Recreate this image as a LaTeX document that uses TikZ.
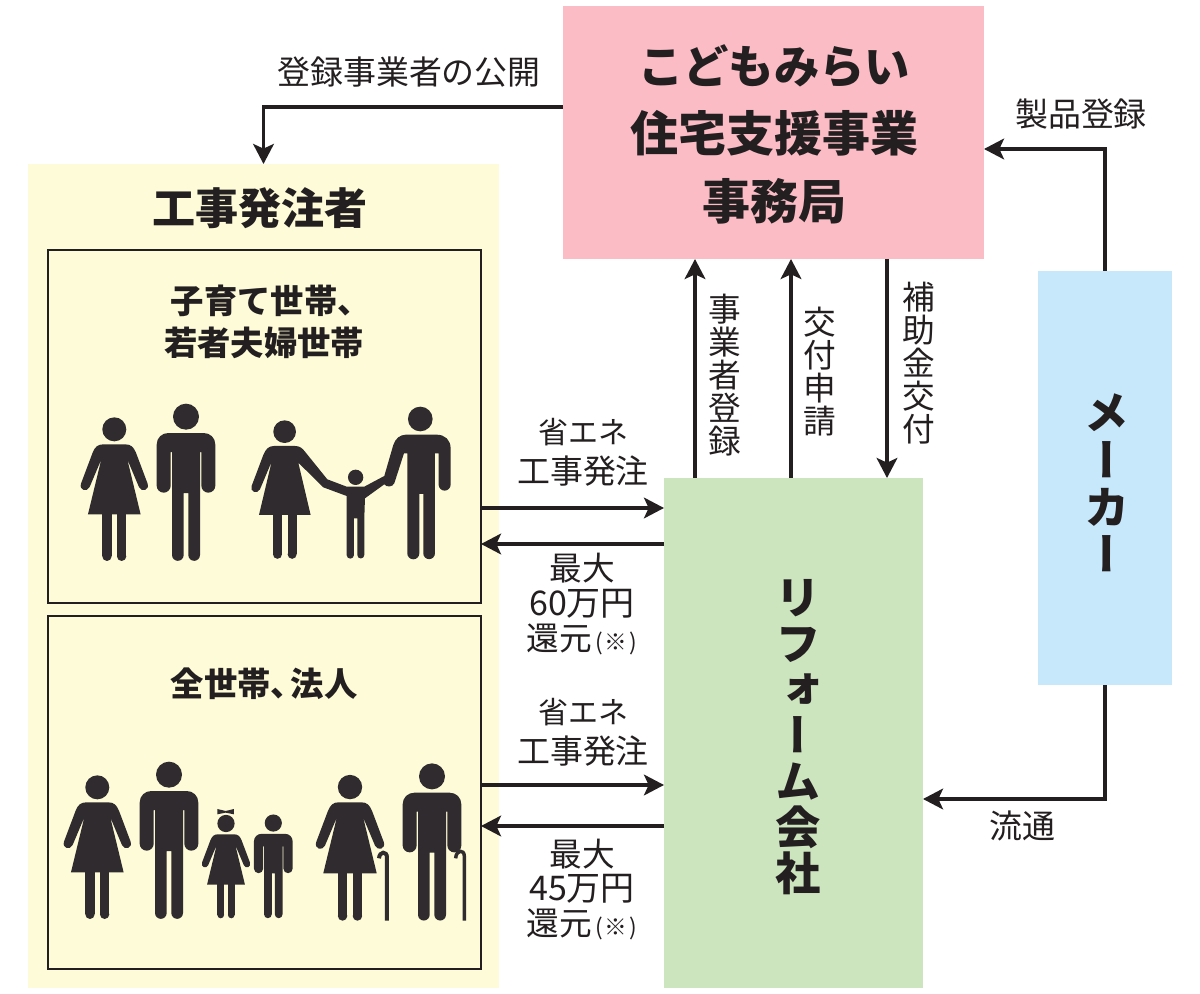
\documentclass[tikz,border=0pt]{standalone}
\usepackage{fontspec}
\usetikzlibrary{arrows.meta,calc}
\setmainfont{Noto Sans CJK JP}
\newfontfamily\jpr{Noto Sans CJK JP}
\newfontfamily\jpb{Noto Sans CJK JP Black}
\newfontfamily\jpv[RawFeature={+vert}]{Noto Sans CJK JP}
\newfontfamily\jpbv[RawFeature={+vert}]{Noto Sans CJK JP Black}
\definecolor{ink}{HTML}{231F20}
\definecolor{fig}{HTML}{2F2B2E}
\definecolor{ownerc}{HTML}{FEFBD8}
\definecolor{pinkc}{HTML}{FBBCC6}
\definecolor{bluec}{HTML}{C7E8FB}
\definecolor{greenc}{HTML}{CDE5BF}
\newcommand{\kome}{\hspace{.1em}{\fontsize{17}{20}\selectfont (\hspace{.1em}※\hspace{.1em})}}
\setlength{\lineskiplimit}{-10pt}
\tikzset{
  area/.style={inner sep=0pt,outer sep=0pt,draw=none,anchor=north west},
  frame/.style={inner sep=0pt,outer sep=0pt,draw=ink,line width=1.1pt,anchor=north west},
  arr/.style={draw=ink,line width=2.6pt,-{Stealth[length=15pt,width=15.5pt,inset=3.5pt]}},
  lbl/.style={text=ink,align=center,inner sep=0pt,font=\jpr\fontsize{24.7}{30}\selectfont},
  lbt/.style={text=ink,align=center,inner sep=0pt,font=\jpr\fontsize{24.5}{26}\selectfont},
  vl/.style={text=ink,align=center,inner sep=0pt,font=\jpv\fontsize{24.5}{24.75}\selectfont},
  sub/.style={text=ink,align=center,inner sep=0pt,font=\jpb\fontsize{25}{31.5}\selectfont},
  man/.pic={
    \fill[fig] (0,-433) circle (39);
    \fill[fig] (-88,-349) .. controls (-88,-370) and (-72,-384) .. (-53,-384) -- (53,-384)
      .. controls (72,-384) and (88,-370) .. (88,-349) -- (88,-226)
      arc[start angle=0,end angle=180,radius=21] -- (46,-327) -- (42,-327) -- (42,-18)
      arc[start angle=0,end angle=180,radius=17.5] -- (7,-204) -- (-7,-204) -- (-7,-18)
      arc[start angle=0,end angle=180,radius=17.5] -- (-42,-327) -- (-46,-327) -- (-46,-226)
      arc[start angle=0,end angle=180,radius=21] -- cycle;
  },
  woman/.pic={
    \fill[fig] (0,-395) circle (36);
    \fill[fig] (-33,-350) -- (33,-350) .. controls (50,-350) and (58,-342) .. (65,-325)
      -- (100,-232) .. controls (106,-212) and (82,-205) .. (74,-222) -- (39,-305) -- (79,-140)
      -- (-79,-140) -- (-39,-305) -- (-74,-222) .. controls (-82,-205) and (-106,-212) .. (-100,-232)
      -- (-65,-325) .. controls (-58,-342) and (-50,-350) .. (-33,-350) -- cycle;
    \fill[fig] (-36,-145) rectangle (-8,-14);
    \fill[fig] (8,-145) rectangle (36,-14);
    \fill[fig] (-22,-14) circle (14);
    \fill[fig] (22,-14) circle (14);
  }
}
\begin{document}
\begin{tikzpicture}[x=0.75pt,y=-0.75pt]
\useasboundingbox (0,0) rectangle (1200,994);
\fill[white] (0,0) rectangle (1200,994);
% areas
\node[area,fill=ownerc,minimum width=353.25pt,minimum height=618pt] (owner) at (28,164) {};
\node[frame,minimum width=324.75pt,minimum height=264.75pt] (box1) at (48,250) {};
\node[frame,minimum width=324.75pt,minimum height=264.75pt] (box2) at (48,616) {};
\node[area,fill=pinkc,minimum width=315.75pt,minimum height=189.75pt] (pink) at (563,6) {};
\node[area,fill=bluec,minimum width=100.5pt,minimum height=310.5pt] (maker) at (1038,271) {};
\node[area,fill=greenc,minimum width=194.25pt,minimum height=382.5pt] (reform) at (664,478) {};
% guide coordinates
\coordinate (ya) at (0,107);
\coordinate (yb) at (0,149);
\coordinate (yc) at (0,799);
\coordinate (va) at (695,0);
\coordinate (vb) at (791,0);
\coordinate (vc) at (887,0);
\coordinate (ha) at (0,508);
\coordinate (hb) at (0,544);
\coordinate (hc) at (0,785);
\coordinate (hd) at (0,826);
% connectors
\draw[arr] (pink.west |- ya) -| (owner.north);
\draw[arr] (maker.north) |- (pink.east |- yb);
\draw[arr] (maker.south) |- (reform.east |- yc);
\draw[arr] (reform.north -| va) -- (pink.south -| va);
\draw[arr] (reform.north -| vb) -- (pink.south -| vb);
\draw[arr] (pink.south -| vc) -- (reform.north -| vc);
\draw[arr] (box1.east |- ha) -- (reform.west |- ha);
\draw[arr] (reform.west |- hb) -- (box1.east |- hb);
\draw[arr] (box2.east |- hc) -- (reform.west |- hc);
\draw[arr] (reform.west |- hd) -- (box2.east |- hd);
% big titles
\node[text=ink,align=center,inner sep=0pt,font=\jpb\fontsize{34}{51}\selectfont] (ttl) at (774,134) {こどもみらい\\{\fontsize{36}{51}\selectfont 住宅支援事業}\\{\fontsize{36}{51}\selectfont 事務局}};
\node[text=ink,inner sep=0pt,font=\jpb\fontsize{32.3}{36}\selectfont] (ownert) at (260,208) {工事発注者};
\node[sub] (s1) at (264,322) {\hspace*{.4em}子育て世帯、\\若者夫婦世帯};
\node[sub] (s2) at (264,684) {全世帯、\hspace*{-.4em}法人};
% labels
\node[lbl] (l1) at (409,72) {登録事業者の公開};
\node[lbl] (l2) at (1081,114) {製品登録};
\node[lbl] (l3) at (1022,826) {流通};
\node[lbl] (l4) at (583,452) {{\fontsize{22.5}{30}\selectfont 省エネ}\\工事発注};
\node[lbl] (l5) at (583,732) {{\fontsize{22.5}{30}\selectfont 省エネ}\\工事発注};
\node[lbt] (l6) at (582,604) {最大\\{\fontsize{25.5}{26}\selectfont 60万円}\\還元\kome};
\node[lbt] (l7) at (582,889.5) {最大\\{\fontsize{25.5}{26}\selectfont 45万円}\\還元\kome};
% vertical labels
\node[vl] (v1) at (725,375) {事\\業\\者\\登\\録};
\node[vl] (v2) at (820,372) {交\\付\\申\\請};
\node[vl] (v3) at (919,363) {補\\助\\金\\交\\付};
\node[text=ink,align=center,inner sep=0pt,font=\jpbv\fontsize{34}{34.5}\selectfont] (v4) at (798,737) {リ\\フ\\ォ\\ー\\ム\\会\\社};
\node[text=ink,align=center,inner sep=0pt,font=\jpbv\fontsize{34}{35.5}\selectfont] (v5) at (1107,483) {メ\\ー\\カ\\ー};
% people, top
\pic[scale=.3333] at (114.3,561) {woman};
\pic[scale=.3333] at (186,561) {man};
\begin{scope}[shift={(50,390)},scale=.3333]
  \fill[fig] (704,125) circle (34);
  \fill[fig] (672,168) -- (735,168) .. controls (750,168) and (757,175) .. (765,185) -- (832,268) -- (890,290) -- (943,290)
    -- (1003,258) -- (1030,165) .. controls (1036,146) and (1050,134) .. (1068,134) -- (1160,134)
    .. controls (1185,134) and (1202,150) .. (1202,175) -- (1202,284)
    arc[start angle=0,end angle=180,radius=18] -- (1166,190) -- (1155,190) -- (1155,490)
    arc[start angle=0,end angle=180,radius=17.5] -- (1120,312) -- (1108,312) -- (1108,490)
    arc[start angle=0,end angle=180,radius=18] -- (1072,190) -- (1062,190) -- (1033,280)
    .. controls (1027,292) and (1010,292) .. (1003,283) -- (945,325) -- (943,385) -- (943,495)
    arc[start angle=0,end angle=180,radius=10.5] -- (922,385) -- (912,385) -- (912,495)
    arc[start angle=0,end angle=180,radius=11] -- (890,318) -- (820,292) -- (745,218) -- (782,375)
    -- (627,375) -- (665,215) -- (630,298) .. controls (622,314) and (598,305) .. (605,288)
    -- (640,195) .. controls (647,178) and (655,168) .. (672,168) -- cycle;
  \fill[fig] (669,370) rectangle (696,492);
  \fill[fig] (713,370) rectangle (740,492);
  \fill[fig] (682.5,493) circle (13.5);
  \fill[fig] (726.5,493) circle (13.5);
  \fill[fig] (917,262) circle (23);
  \fill[fig] (1111,87) circle (37);
\end{scope}
% people, bottom
\pic[scale=.3333] at (97.3,919) {woman};
\pic[scale=.3333] at (169,919) {man};
\pic[scale=.24] at (226,918.3) {woman};
\pic[scale=.22] at (273.3,918.3) {man};
\pic[scale=.3383] at (350,920.7) {woman};
\pic[scale=.3333] at (432,920.7) {man};
\begin{scope}[shift={(50,750)},scale=.3333]
  \fill[fig] (502,177) -- (527,183) -- (552,177) -- (552,193) -- (527,188) -- (502,193) -- cycle;
  \draw[fig,line width=3pt] (1011,512) -- (1011,322) .. controls (1011,303) and (989,303) .. (987,325);
  \draw[fig,line width=2.6pt] (1243,512) -- (1243,318) .. controls (1243,298) and (1219,298) .. (1217,325);
\end{scope}
\end{tikzpicture}
\end{document}
